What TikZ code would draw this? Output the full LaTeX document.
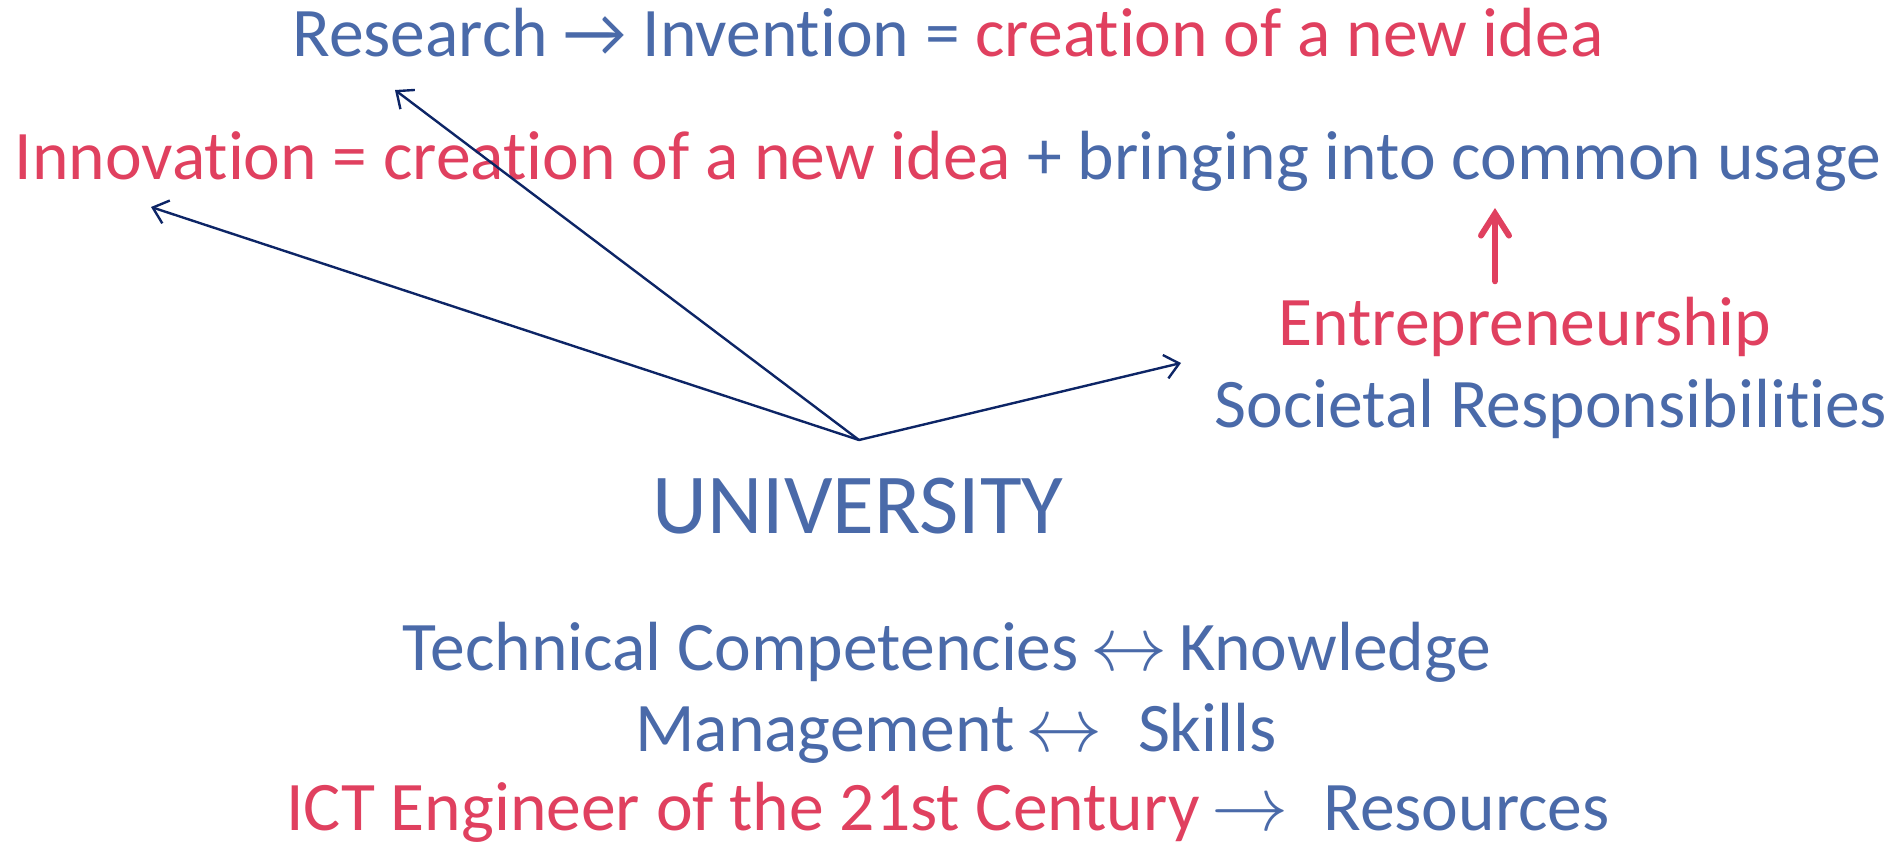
\documentclass[tikz,border=0pt]{standalone}
\usepackage{fontspec}
\setmainfont{Carlito}[Ligatures=CommonOff]
\usepackage{xcolor}
\usepackage{graphicx}
\usepackage{tikz}
\usetikzlibrary{arrows.meta,positioning}
\definecolor{unblue}{HTML}{4A6AA9}
\definecolor{unred}{HTML}{E0405F}
\definecolor{unnavy}{HTML}{0D2566}
\newcommand{\lrar}{\scalebox{1.55}{$\leftrightarrow$}}
\newcommand{\rar}{\scalebox{1.55}{$\rightarrow$}}
\tikzset{
  txt/.style={anchor=base,inner sep=0pt,text=unblue,font=\fontsize{34.8}{40}\selectfont},
  rtxt/.style={txt,text=unred},
  ar/.style={-{Straight Barb[length=7pt,width=12pt]},draw=unnavy,line width=1.2pt},
  rar/.style={-{Straight Barb[length=11pt,width=14pt,line cap=round]},draw=unred,line width=3pt,line cap=round},
}

\begin{document}
\begin{tikzpicture}[x=0.5pt,y=0.5pt]
  \useasboundingbox (0,0) rectangle (1900,843);
  % headline rows
  \node[txt] (res) at (948,786) {Research \textrightarrow{} Invention = \textcolor{unred}{creation of a new idea}};
  \node[rtxt] (inn) at (948,664) {Innovation = creation of a new idea \textcolor{unblue}{+ bringing into common usage}};
  % right side
  \node[rtxt] (ent) at (1525,498) {Entrepreneurship};
  \node[txt] (soc) at (1551,416) {Societal Responsibilities};
  \node[txt,font=\fontsize{42.7}{48}\selectfont] (uni) at (858,310) {UNIVERSITY};
  % bottom rows
  \node[txt] (tec) at (947,173) {Technical Competencies\,\lrar\,Knowledge};
  \node[txt] (man) at (956,92) {Management\,\lrar\; Skills};
  \node[txt] (ict) at (948,13) {\textcolor{unred}{ICT Engineer of the 21st Century}\,\rar\; Resources};

  \coordinate (hub) at (859,403);
  \coordinate (tres) at (395,753);
  \coordinate (tinn) at (151,636);
  \coordinate (tsoc) at (1181,480);
  \coordinate (tuse) at (1495,635);
  \draw[ar] (hub) -- (tres);
  \draw[ar] (hub) -- (tinn);
  \draw[ar] (hub) -- (tsoc);
  \draw[rar] (ent.north -| tuse) ++(0,15) -- (tuse);
\end{tikzpicture}
\end{document}
